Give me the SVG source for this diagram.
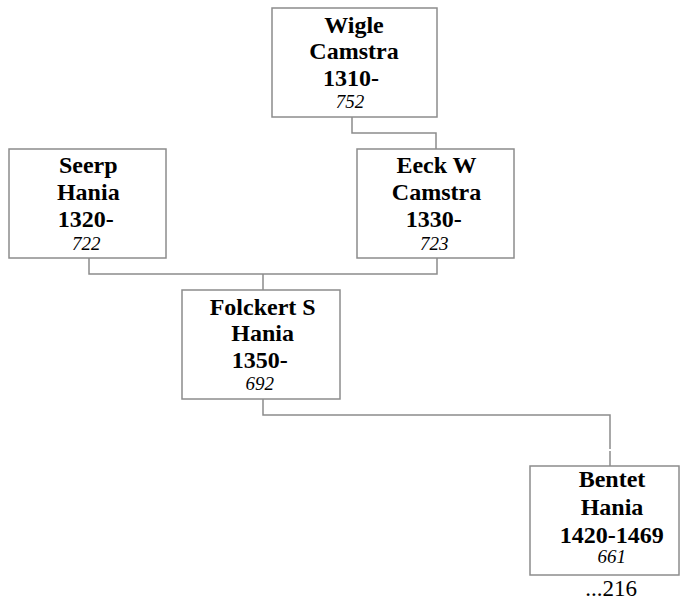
<svg xmlns="http://www.w3.org/2000/svg" width="680" height="604" viewBox="0 0 680 604">
<style>
.box{fill:#fff;stroke:#8c8c8c;stroke-width:1.5}
.con{fill:none;stroke:#8c8c8c;stroke-width:1.5}
.n{font-family:"Liberation Serif","Times New Roman",serif;font-weight:bold;font-size:24px;fill:#000;text-anchor:middle}
.i{font-family:"Liberation Serif","Times New Roman",serif;font-style:italic;font-size:19px;fill:#000;text-anchor:middle}
.r{font-family:"Liberation Serif","Times New Roman",serif;font-size:23px;fill:#000;text-anchor:middle}
</style>
<rect width="680" height="604" fill="#fff"/>
<g id="connectors">
<path class="con" d="M352,117 V133 H436 V149"/>
<path class="con" d="M89,258 V274 H437 V258 M263,274 V290"/>
<path class="con" d="M263,399 V415 H610 V449 M610,451 V466"/>
</g>
<g id="wigle">
<rect class="box" x="272" y="8" width="165" height="109"/>
<text class="n" x="354" y="33.3">Wigle</text>
<text class="n" x="354" y="59.3">Camstra</text>
<text class="n" x="351" y="86">1310-</text>
<text class="i" x="350" y="108.3">752</text>
</g>
<g id="seerp">
<rect class="box" x="9" y="149" width="157" height="109"/>
<text class="n" x="88.3" y="173.3">Seerp</text>
<text class="n" x="88.3" y="200">Hania</text>
<text class="n" x="85.8" y="227.3">1320-</text>
<text class="i" x="86.3" y="250">722</text>
</g>
<g id="eeck">
<rect class="box" x="357" y="149" width="157" height="109"/>
<text class="n" x="436.5" y="173.3">Eeck W</text>
<text class="n" x="436.5" y="200">Camstra</text>
<text class="n" x="433.7" y="227.3">1330-</text>
<text class="i" x="434.2" y="250">723</text>
</g>
<g id="folckert">
<rect class="box" x="182" y="290" width="158" height="109"/>
<text class="n" x="262.7" y="315">Folckert S</text>
<text class="n" x="262.7" y="340.7">Hania</text>
<text class="n" x="259.8" y="368.3">1350-</text>
<text class="i" x="259.7" y="390">692</text>
</g>
<g id="bentet">
<rect class="box" x="530" y="466" width="149" height="109"/>
<text class="n" x="612" y="487">Bentet</text>
<text class="n" x="612" y="515">Hania</text>
<text class="n" x="611.7" y="542.7">1420-1469</text>
<text class="i" x="611.7" y="563.3">661</text>
<text class="r" x="611" y="595.7">...216</text>
</g>
</svg>
